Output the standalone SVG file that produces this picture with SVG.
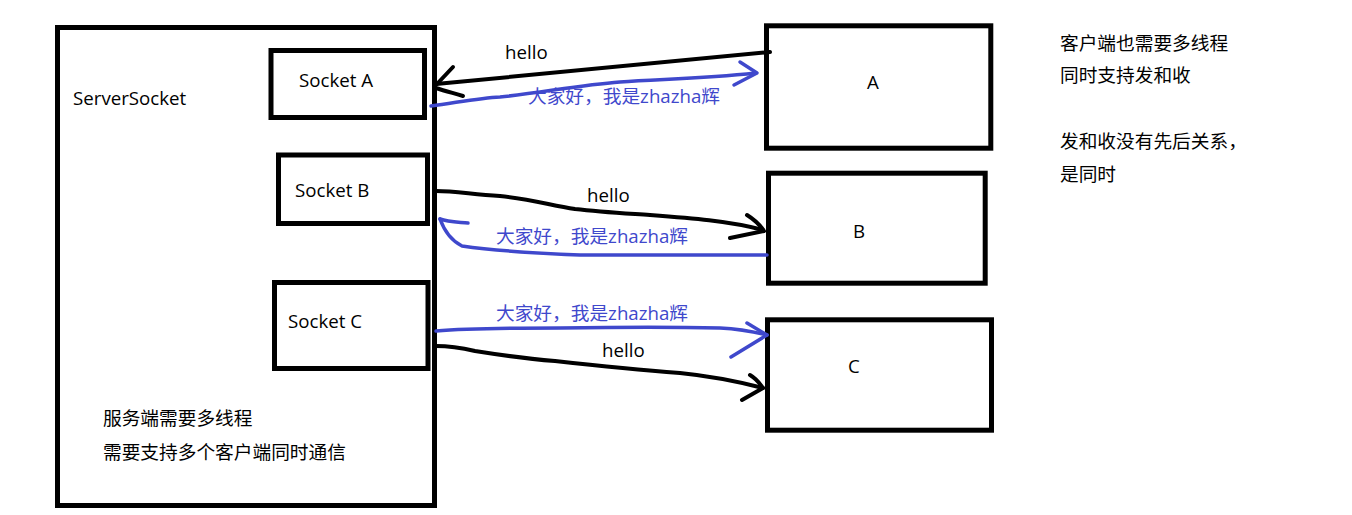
<svg xmlns="http://www.w3.org/2000/svg" width="1352" height="515" viewBox="0 0 1352 515">
<style>
.box{fill:none;stroke:#000;stroke-width:5}
.t{font-family:"Open Sans","Noto Sans CJK SC",sans-serif;font-size:18.7px;fill:#000}
.bt{font-family:"Open Sans","Noto Sans CJK SC",sans-serif;font-size:18.7px;fill:#3f48cc}
.k{fill:none;stroke:#000;stroke-width:4;stroke-linecap:round;stroke-linejoin:round}
.b{fill:none;stroke:#3f48cc;stroke-width:3.5;stroke-linecap:round;stroke-linejoin:round}
</style>
<rect width="1352" height="515" fill="#fff"/>
<g id="server">
<rect class="box" x="57.5" y="27.5" width="377" height="478"/>
<text class="t" x="73" y="105">ServerSocket</text>
<text class="t" x="103" y="425">服务端需要多线程</text>
<text class="t" x="103" y="459">需要支持多个客户端同时通信</text>
</g>
<g id="socketA">
<rect class="box" x="271" y="50.5" width="153.5" height="67"/>
<text class="t" x="299" y="87">Socket A</text>
</g>
<g id="socketB">
<rect class="box" x="278.5" y="155" width="149" height="68.5"/>
<text class="t" x="295" y="197">Socket B</text>
</g>
<g id="socketC">
<rect class="box" x="274.5" y="282.5" width="153.5" height="86"/>
<text class="t" x="288" y="328">Socket C</text>
</g>
<g id="clientA">
<rect class="box" x="766.5" y="25.8" width="224.3" height="122.4"/>
<text class="t" x="867" y="89">A</text>
</g>
<g id="clientB">
<rect class="box" x="768.5" y="173.2" width="216.7" height="110"/>
<text class="t" x="853" y="238">B</text>
</g>
<g id="clientC">
<rect class="box" x="767.5" y="319.8" width="224" height="110.4"/>
<text class="t" x="848" y="373">C</text>
</g>
<g id="note">
<text class="t" x="1060" y="50">客户端也需要多线程</text>
<text class="t" x="1060" y="82">同时支持发和收</text>
<text class="t" x="1060" y="148">发和收没有先后关系，</text>
<text class="t" x="1060" y="181">是同时</text>
</g>
<g id="connectors">
<path class="k" d="M770,52 L436,84"/>
<path class="k" d="M453,67 L436,85 M436,88 C445,91 453,93 463,96"/>
<path class="b" d="M431,106 C460,102 480,98 500,97 C540,93 580,85 620,82 C660,79 700,79 756,73"/>
<path class="b" d="M740,62 L757,73 L734,85"/>
<text class="t" x="505" y="59">hello</text>
<text class="bt" x="528" y="103">大家好，我是zhazha辉</text>
<path class="k" d="M436,191 C455,191 470,194 500,196 C530,199 550,205 575,209 C600,212 620,213 650,215 C690,218 730,221 763,230"/>
<path class="k" d="M747,215 C755,220 760,225 764,231 L730,238"/>
<path class="b" d="M767,255 L580,255 C530,253 490,250 462,246 C450,240 444,230 440,219"/>
<path class="b" d="M440,219 C448,222 458,222 468,223"/>
<text class="t" x="587" y="202">hello</text>
<text class="bt" x="496" y="243">大家好，我是zhazha辉</text>
<path class="b" d="M436,331 C460,329 500,328 560,328 C620,327 680,327 720,328 C740,329 755,332 767,335"/>
<path class="b" d="M747,323 L767,335 L731,357"/>
<path class="k" d="M436,346 C450,346 462,348 475,351 C500,355 530,359 555,361 C600,366 640,370 680,373 C710,376 740,382 763,388"/>
<path class="k" d="M750,375 C757,379 760,384 763,388 L742,400"/>
<text class="t" x="602" y="357">hello</text>
<text class="bt" x="496" y="320">大家好，我是zhazha辉</text>
</g>
</svg>
